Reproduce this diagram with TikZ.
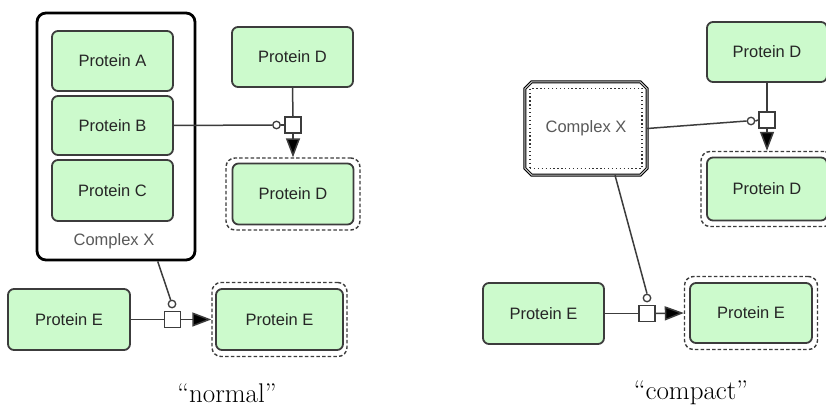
\documentclass[tikz,border=0pt]{standalone}
\usepackage{fontspec}
\newfontfamily\labfont{Liberation Sans}
\usetikzlibrary{arrows.meta}
\definecolor{pfill}{RGB}{204,250,204}
\definecolor{pline}{RGB}{60,60,60}
\begin{document}
\begin{tikzpicture}[x=1pt,y=-1pt,
  protein/.style={draw=pline,line width=1.8pt,fill=pfill,rounded corners=6pt,
    font=\labfont\fontsize{16.5}{18}\selectfont,text=black!85,inner sep=0pt},
  halo/.style={draw=pline,line width=1.4pt,dash pattern=on 3.5pt off 2.2pt,rounded corners=9pt,fill=white,inner sep=0pt},
  procsq/.style={draw=pline,line width=1.5pt,fill=white,minimum size=16pt,inner sep=0pt},
  catc/.style={circle,draw=pline,line width=1.3pt,fill=white,minimum size=7.5pt,inner sep=0pt},
  conn/.style={draw=pline,line width=1.5pt},
  arr/.style={conn,-{Triangle[length=19pt,width=14pt,fill=black]}},
  captext/.style={font=\fontsize{27}{30}\selectfont,inner sep=0pt}
]
\useasboundingbox (0,0) rectangle (826,409);
\fill[white] (0,0) rectangle (826,409);

% ---------------- normal ----------------
\node[draw=black,line width=2.8pt,rounded corners=9pt,fill=white,minimum width=158pt,minimum height=247pt,inner sep=0pt] (cxL) at (116,136.5) {};
\node[font=\labfont\fontsize{16.5}{18}\selectfont,text=black!65,inner sep=0pt] (cxLlab) at (114,241) {Complex X};
\node[protein,minimum width=121pt,minimum height=60pt] (pA) at (112.5,61) {Protein A};
\node[protein,minimum width=121pt,minimum height=59pt] (pB) at (112.5,125.5) {Protein B};
\node[protein,minimum width=121pt,minimum height=61pt] (pC) at (112.5,190.5) {Protein C};

\node[protein,minimum width=121pt,minimum height=60pt] (pD1) at (292.5,57) {Protein D};
\node[halo,minimum width=134pt,minimum height=72pt] (pD2o) at (293,194) {};
\node[protein,minimum width=121pt,minimum height=61pt] (pD2) at (293,194) {Protein D};
\node[procsq] (sqL1) at (293,125) {};
\node[catc] (cL1) at (276.5,125) {};
\draw[conn] (pB.east) -- (cL1.west);
\draw[conn] (cL1.east) -- (sqL1.west);
\draw[conn] (pD1.south) -- (sqL1.north);
\draw[arr] (sqL1.south) -- (pD2o.north);

\node[protein,minimum width=122pt,minimum height=61pt] (pE1) at (69,319.5) {Protein E};
\node[halo,minimum width=135pt,minimum height=74pt] (pE2o) at (279.5,319.5) {};
\node[protein,minimum width=127pt,minimum height=61pt] (pE2) at (279.5,319.5) {Protein E};
\node[procsq] (sqL2) at (172.5,319.5) {};
\node[catc] (cL2) at (172,304) {};
\draw[conn] (cL2) -- (cxL);
\draw[conn] (pE1.east) -- (sqL2.west);
\draw[arr] (sqL2.east) -- (pE2o.west);

\node[captext] (capN) at (227,393) {``normal''};

% ---------------- compact ----------------
\node[minimum width=122pt,minimum height=93pt,inner sep=0pt] (cxR) at (586,128.5) {};
\draw[draw=black,line width=1pt,double=gray!45,double distance=1pt,fill=white]
  ([xshift=7pt]cxR.north west) -- ([xshift=-7pt]cxR.north east) -- ([yshift=-7pt]cxR.north east)
  -- ([yshift=7pt]cxR.south east) -- ([xshift=-7pt]cxR.south east) -- ([xshift=7pt]cxR.south west)
  -- ([yshift=7pt]cxR.south west) -- ([yshift=-7pt]cxR.north west) -- cycle;
\node[draw=black!80,line width=1.4pt,dash pattern=on 1.3pt off 2.6pt,minimum width=112pt,minimum height=80pt,inner sep=0pt,
  font=\labfont\fontsize{16.5}{18}\selectfont,text=black!65] (cxRin) at (586,128.5) {Complex X};

\node[protein,minimum width=120pt,minimum height=60pt] (pD3) at (767,52) {Protein D};
\node[halo,minimum width=132pt,minimum height=75pt] (pD4o) at (767,189) {};
\node[protein,minimum width=120pt,minimum height=63pt] (pD4) at (767,189) {Protein D};
\node[procsq] (sqR1) at (767,120) {};
\node[catc] (cR1) at (751,121) {};
\draw[conn] (cxR.east) -- (cR1.west);
\draw[conn] (cR1.east) -- (sqR1.west);
\draw[conn] (pD3.south) -- (sqR1.north);
\draw[arr] (sqR1.south) -- (pD4o.north);

\node[protein,minimum width=121pt,minimum height=61pt] (pE3) at (543.5,313.5) {Protein E};
\node[halo,minimum width=133pt,minimum height=73pt] (pE4o) at (751,313) {};
\node[protein,minimum width=122pt,minimum height=60pt] (pE4) at (751,313) {Protein E};
\node[procsq] (sqR2) at (647,313.5) {};
\node[catc] (cR2) at (647,298) {};
\draw[conn] (cR2.north) -- ([xshift=29pt]cxR.south);
\draw[conn] (pE3.east) -- (sqR2.west);
\draw[arr] (sqR2.east) -- (pE4o.west);

\node[captext] (capC) at (691,393) {``compact''};
\end{tikzpicture}
\end{document}
